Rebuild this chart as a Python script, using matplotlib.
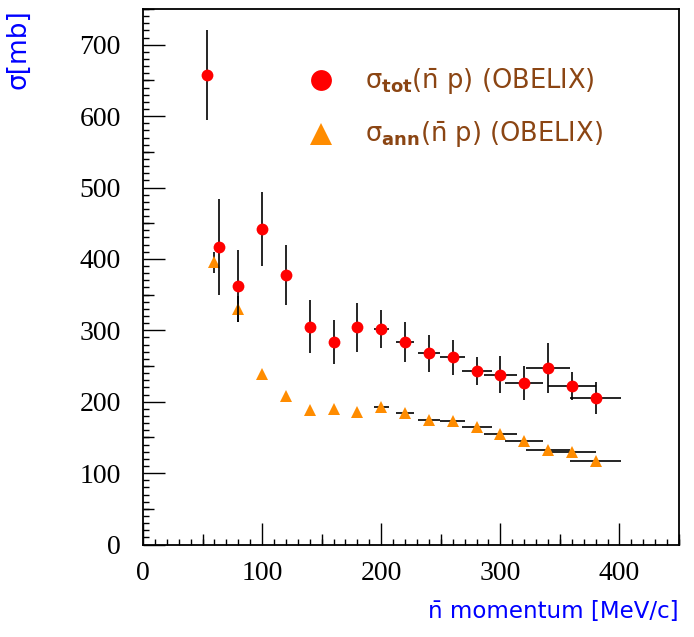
import matplotlib
matplotlib.use("Agg")
import matplotlib.pyplot as plt
from matplotlib.ticker import MultipleLocator

plt.rcParams['mathtext.fontset'] = 'dejavusans'

# total cross section sigma_tot(nbar p) (OBELIX)
tot_p = [54, 64, 80, 100, 120, 140, 160, 180, 200, 220, 240, 260, 280, 300, 320, 340, 360, 380]
tot_sigma = [658, 417, 362, 442, 378, 305, 284, 304, 302, 284, 268, 262, 243, 238, 226, 247, 222, 205]
tot_yerr = [63, 67, 50, 52, 42, 37, 31, 34, 27, 28, 26, 24, 20, 26, 24, 35, 19, 22]
tot_xerr = [0, 0, 0, 0, 0, 0, 0, 0, 6.4, 7.8, 9.5, 10.6, 12.6, 14, 16, 18.5, 20, 21.6]

# annihilation cross section sigma_ann(nbar p) (OBELIX)
ann_p = [60, 80, 100, 120, 140, 160, 180, 200, 220, 240, 260, 280, 300, 320, 340, 360, 380]
ann_sigma = [395, 330, 239, 208, 189, 190, 185, 193, 184, 175, 173, 164, 155, 145, 133, 129, 117]
ann_yerr = [15, 18, 4, 4, 4, 4, 4, 4, 4, 4, 4, 4, 4, 4, 4, 4, 4]
ann_xerr = [0, 0, 0, 0, 0, 0, 0, 6.4, 7.8, 9.5, 10.6, 12.6, 14, 16, 18.5, 20, 21.6]

xticks = [0, 100, 200, 300, 400]
yticks = [0, 100, 200, 300, 400, 500, 600, 700]

fig = plt.figure(figsize=(6.94, 6.37), dpi=100)
ax = fig.add_axes([143/694, 1-544.5/637, 536/694, 535.5/637])

ax.errorbar(ann_p, ann_sigma, yerr=ann_yerr, xerr=ann_xerr, fmt='^', color='#ff8c00',
            ecolor='black', elinewidth=1.2, markersize=9, markeredgewidth=0, capsize=0, zorder=3)
ax.errorbar(tot_p, tot_sigma, yerr=tot_yerr, xerr=tot_xerr, fmt='o', color='#ff0000',
            ecolor='black', elinewidth=1.2, markersize=8.5, markeredgewidth=0, capsize=0, zorder=4)

ax.set_xlim(0, 450)
ax.set_ylim(0, 750)
ax.set_xticks(xticks)
ax.set_yticks(yticks)
ax.xaxis.set_minor_locator(MultipleLocator(10))
ax.yaxis.set_minor_locator(MultipleLocator(10))
ax.tick_params(which='major', direction='in', length=16, width=1.0, top=False, right=False)
ax.tick_params(which='minor', direction='in', length=4, width=1.0, top=False, right=False)
ax.tick_params(axis='x', which='major', pad=12)
ax.tick_params(axis='y', which='major', pad=16)
for lab in ax.get_xticklabels() + ax.get_yticklabels():
    lab.set_fontfamily('Liberation Serif')
    lab.set_fontsize(20)

# medium ticks at the 50s
secx = ax.secondary_xaxis(0)
secx.set_xticks([50, 150, 250, 350, 450])
secx.tick_params(direction='in', length=8, width=1.0, labelbottom=False)
secx.spines['bottom'].set_visible(False)
secy = ax.secondary_yaxis(0)
secy.set_yticks([50, 150, 250, 350, 450, 550, 650, 750])
secy.tick_params(direction='in', length=8, width=1.0, labelleft=False)
secy.spines['left'].set_visible(False)

for s in ax.spines.values():
    s.set_linewidth(1.3)

ax.set_xlabel('n\u0304 momentum [MeV/c]', loc='right', color='#0000ff',
              fontsize=16.5, fontfamily='DejaVu Sans')
ax.xaxis.set_label_coords(1.0, -0.126)
ax.xaxis.label.set_verticalalignment('center')
ax.set_ylabel('\u03c3[mb]', loc='top', color='#0000ff', fontsize=19, fontfamily='DejaVu Sans')
ax.yaxis.set_label_coords(-0.232, 1.0)
ax.yaxis.label.set_verticalalignment('center')

# legend
brown = '#8b4513'
ax.plot([0.332], [0.867], 'o', color='#ff0000', markersize=15, markeredgewidth=0,
        transform=ax.transAxes, clip_on=False)
ax.plot([0.332], [0.767], '^', color='#ff8c00', markersize=16, markeredgewidth=0,
        transform=ax.transAxes, clip_on=False)
ax.text(0.414, 0.867, '\u03c3$_{\\mathbf{tot}}$(n\u0304 p) (OBELIX)', transform=ax.transAxes,
        color=brown, fontsize=18.5, va='center', ha='left', fontfamily='DejaVu Sans')
ax.text(0.414, 0.767, '\u03c3$_{\\mathbf{ann}}$(n\u0304 p) (OBELIX)', transform=ax.transAxes,
        color=brown, fontsize=18.5, va='center', ha='left', fontfamily='DejaVu Sans')

fig.savefig('out.png', dpi=100)
